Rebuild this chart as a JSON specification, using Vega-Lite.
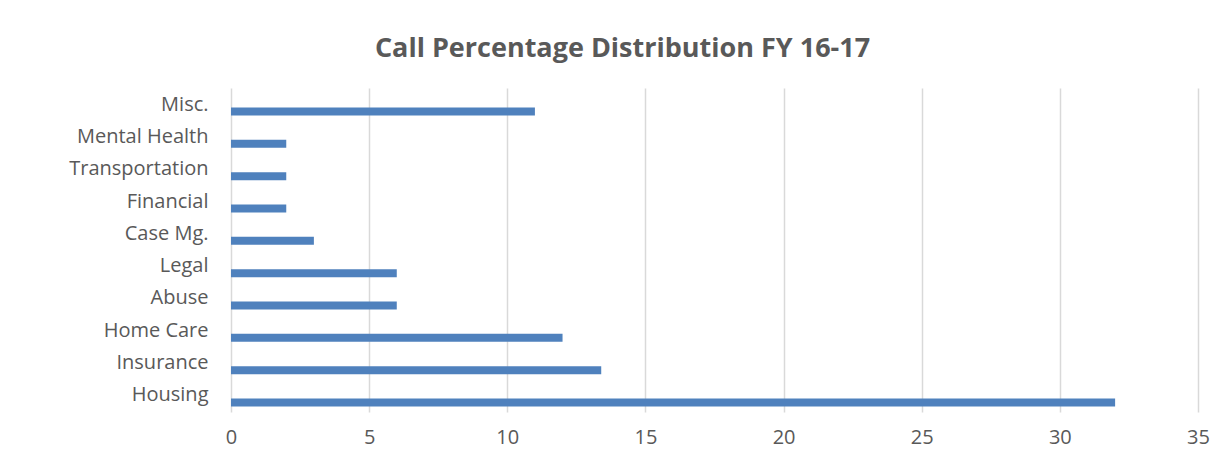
{
  "$schema": "https://vega.github.io/schema/vega-lite/v6.json",
  "width": 967,
  "height": 324,
  "autosize": {"type": "none"},
  "padding": {"left": 231, "top": 88, "right": 22, "bottom": 51},
  "background": "white",
  "title": {
    "text": "Call Percentage Distribution FY 16-17",
    "font": "Open Sans",
    "fontSize": 27,
    "fontWeight": "bold",
    "color": "#595959",
    "anchor": "middle",
    "dx": -92,
    "offset": 25
  },
  "data": {
    "values": [
      {"category": "Housing", "value": 32},
      {"category": "Insurance", "value": 13.4},
      {"category": "Home Care", "value": 12},
      {"category": "Abuse", "value": 6},
      {"category": "Legal", "value": 6},
      {"category": "Case Mg.", "value": 3},
      {"category": "Financial", "value": 2},
      {"category": "Transportation", "value": 2},
      {"category": "Mental Health", "value": 2},
      {"category": "Misc.", "value": 11}
    ]
  },
  "mark": {"type": "bar", "color": "#4F81BD", "yOffset": 7},
  "encoding": {
    "y": {
      "field": "category",
      "type": "nominal",
      "sort": ["Misc.", "Mental Health", "Transportation", "Financial", "Case Mg.", "Legal", "Abuse", "Home Care", "Insurance", "Housing"],
      "scale": {"paddingInner": 0.753, "paddingOuter": 0.387},
      "axis": {
        "title": null,
        "domain": false,
        "ticks": false,
        "labelFont": "Open Sans",
        "labelFontSize": 20,
        "labelColor": "#595959",
        "labelPadding": 23
      }
    },
    "x": {
      "field": "value",
      "type": "quantitative",
      "scale": {"domain": [0, 35], "nice": false},
      "axis": {
        "title": null,
        "values": [0, 5, 10, 15, 20, 25, 30, 35],
        "domain": false,
        "ticks": false,
        "grid": true,
        "gridColor": "#d9d9d9",
        "gridWidth": 1.5,
        "labelFlush": false,
        "labelFont": "Open Sans",
        "labelFontSize": 20,
        "labelColor": "#595959",
        "labelPadding": 15
      }
    }
  },
  "config": {"view": {"stroke": null}}
}
